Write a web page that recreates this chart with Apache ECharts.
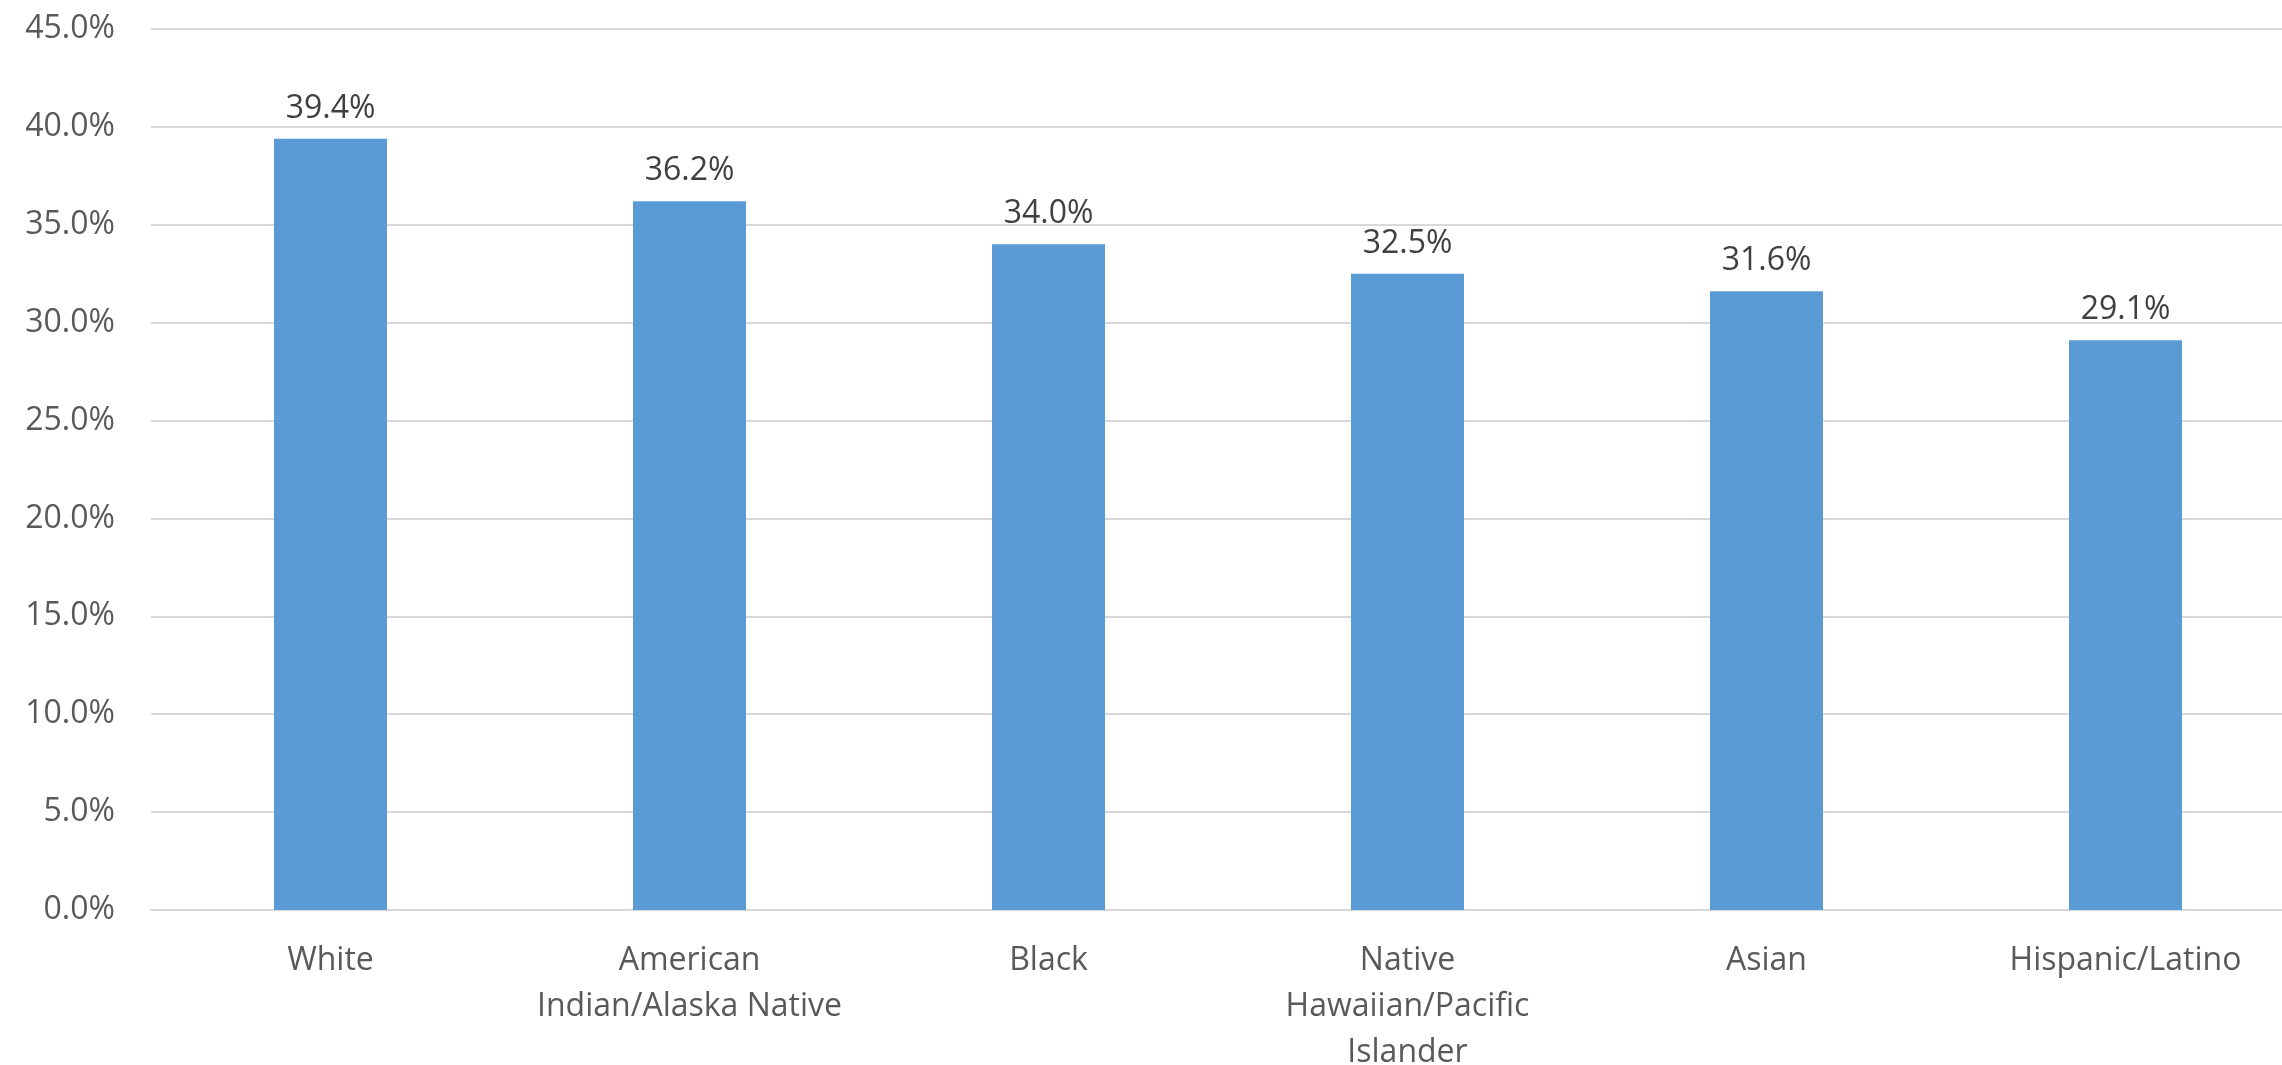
<!DOCTYPE html>
<html>
<head>
<meta charset="utf-8">
<script src="https://cdn.jsdelivr.net/npm/echarts@6/dist/echarts.min.js"></script>
<style>
html,body{margin:0;padding:0;background:#fff;}
#c{width:2282px;height:1065px;}
</style>
</head>
<body>
<div id="c"></div>
<script>
const categories = ["White", "American\nIndian/Alaska Native", "Black", "Native\nHawaiian/Pacific\nIslander", "Asian", "Hispanic/Latino"];
const values = [39.4, 36.2, 34.0, 32.5, 31.6, 29.1];
const yMin = 0, yMax = 45, yStep = 5;

const chart = echarts.init(document.getElementById('c'));
const FONT = '"Open Sans", sans-serif';
chart.setOption({
  animation: false,
  grid: { left: 151, top: 29, bottom: 155, width: 2154, containLabel: false, outerBoundsMode: 'none' },
  xAxis: {
    type: 'category',
    data: categories,
    axisLine: { show: true, lineStyle: { color: '#D9D9D9', width: 2 } },
    axisTick: { show: false },
    axisLabel: { interval: 0, color: '#595959', fontFamily: FONT, fontSize: 32, lineHeight: 46, margin: 28 }
  },
  yAxis: {
    type: 'value',
    min: yMin, max: yMax, interval: yStep,
    axisLine: { show: false },
    axisTick: { show: false },
    splitLine: { lineStyle: { color: '#D9D9D9', width: 2 } },
    axisLabel: { color: '#595959', fontFamily: FONT, fontSize: 32, margin: 36,
      formatter: v => v.toFixed(1) + '%' }
  },
  series: [{
    type: 'bar',
    data: values,
    barWidth: 113,
    itemStyle: { color: '#5B9BD5' },
    label: { show: true, position: 'top', distance: 14, color: '#404040', fontFamily: FONT, fontSize: 32,
      formatter: p => p.value.toFixed(1) + '%' }
  }]
});
</script>
</body>
</html>
